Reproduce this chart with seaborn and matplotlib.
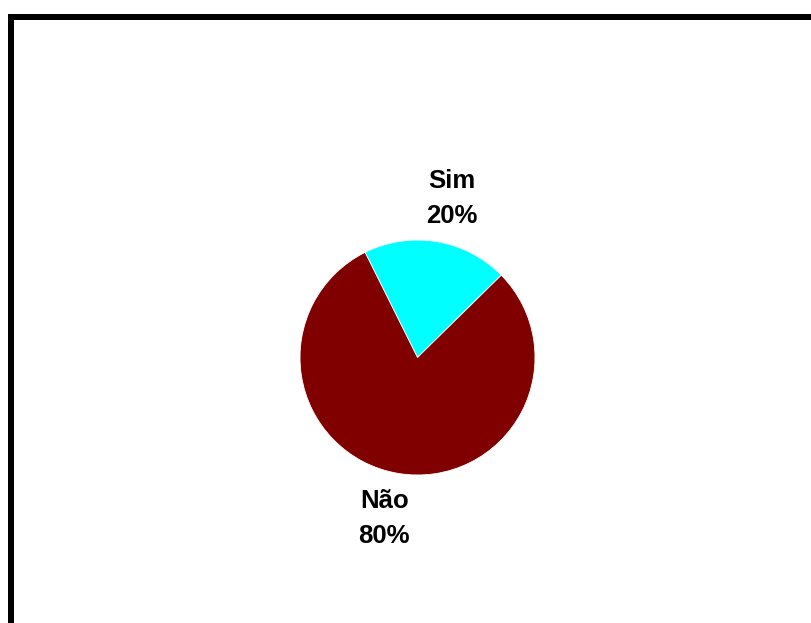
import matplotlib
matplotlib.use("Agg")
import matplotlib.pyplot as plt
from matplotlib.patches import Rectangle
import seaborn as sns

# Survey answers and their shares (%)
categories = ["Sim", "Não"]
shares = [20, 80]
colors = ["#00FFFF", "#800000"]

sns.set_theme(style="white")
plt.rcParams["font.family"] = ["Liberation Sans", "DejaVu Sans"]

W, H = 811, 623
fig = plt.figure(figsize=(W / 100, H / 100), dpi=100)
fig.patch.set_facecolor("white")

# Axes in pixel units, y pointing up
ax = fig.add_axes([0, 0, 1, 1])

cx, cy, r = 417.5, H - 357.5, 117.5
wedges, texts = ax.pie(
    shares,
    colors=colors,
    startangle=116.5,
    counterclock=False,
    center=(cx, cy),
    radius=r,
    wedgeprops=dict(edgecolor="white", linewidth=0.6),
    labels=[f"{c}\n{v}%" for c, v in zip(categories, shares)],
    labeldistance=1.39,
    textprops=dict(fontsize=18.5, fontweight="bold", color="black",
                   ha="center", va="center", linespacing=1.58),
    frame=True,
)
ax.set_xlim(0, W)
ax.set_ylim(0, H)
ax.set_aspect("equal")
ax.axis("off")

# Label placement around the pie
label_pos = {"Sim": (451.7, H - 198.5), "Não": (384.3, H - 518.5)}
for t, c in zip(texts, categories):
    t.set_position(label_pos[c])
    t.set_ha("center")
    t.set_va("center")

# Thick chart-area frame running off the right and bottom edges
lw_px = 6
frame = Rectangle((11 / W, -0.2), 1.5, (H - 17) / H + 0.2,
                  transform=fig.transFigure, fill=False,
                  edgecolor="black", linewidth=lw_px * 72 / 100)
fig.patches.append(frame)

fig.savefig("out.png", dpi=100, facecolor="white")
